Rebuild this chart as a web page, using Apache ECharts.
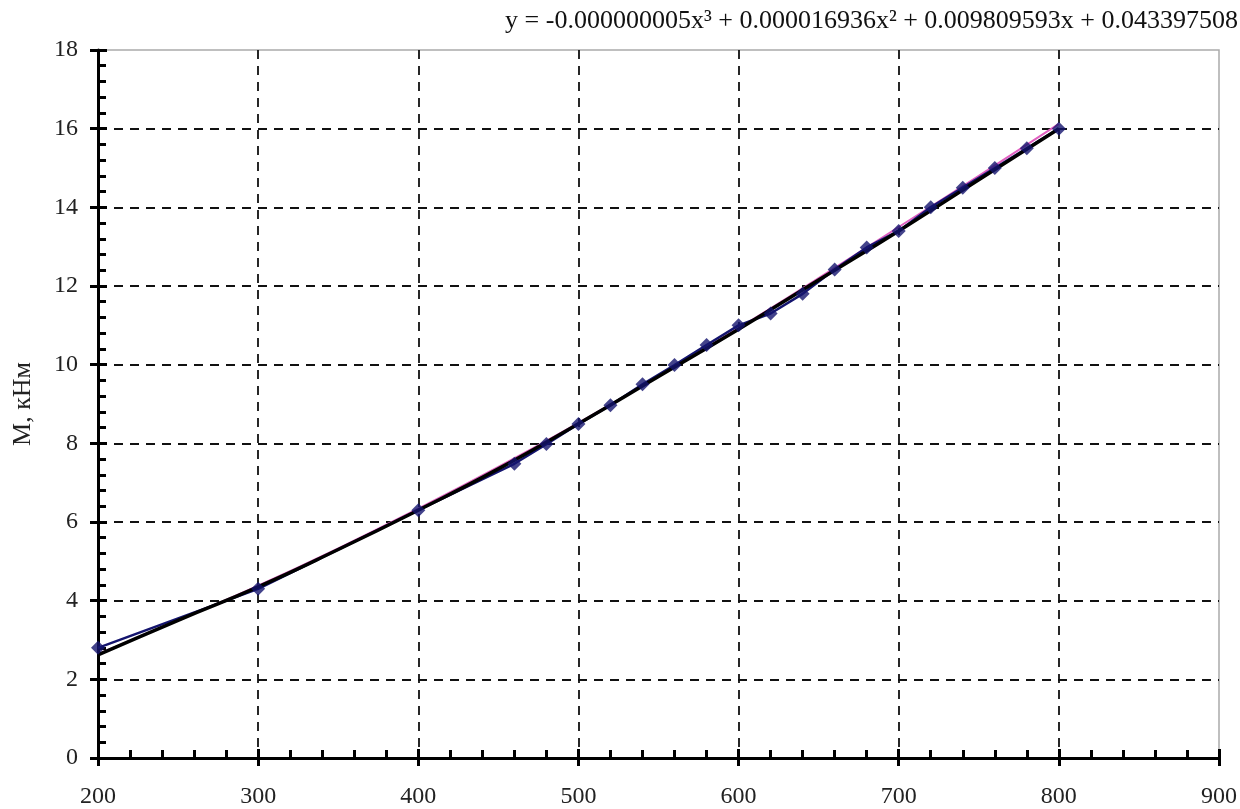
<!DOCTYPE html>
<html>
<head>
<meta charset="utf-8">
<script src="https://cdn.jsdelivr.net/npm/echarts@6/dist/echarts.min.js"></script>
<style>html,body{margin:0;padding:0;background:#fff}#c{width:1240px;height:809px}</style>
</head>
<body>
<div id="c"></div>
<script>
// Measured data (x, M kNm)
const dataX = [200, 300, 400, 460, 480, 500, 520, 540, 560, 580, 600, 620, 640, 660, 680, 700, 720, 740, 760, 780, 800];
const dataY = [2.8, 4.3, 6.3, 7.48, 7.98, 8.49, 8.97, 9.5, 9.99, 10.5, 11.0, 11.3, 11.8, 12.42, 12.98, 13.4, 14.0, 14.5, 15.0, 15.5, 16.0];
// Black curve
const curveX = [200, 250, 300, 350, 400, 450, 500, 550, 600, 650, 700, 750, 800];
const curveY = [2.62, 3.5, 4.35, 5.3, 6.3, 7.35, 8.5, 9.7, 10.9, 12.15, 13.4, 14.7, 16.0];
// Pink trend line
const trendX = [200, 250, 300, 350, 400, 450, 500, 550, 600, 650, 700, 750, 800];
const trendY = [2.64, 3.5, 4.38, 5.33, 6.34, 7.4, 8.52, 9.7, 10.93, 12.2, 13.5, 14.8, 16.12];
const xTicks = [200, 300, 400, 500, 600, 700, 800, 900];
const yTicks = [0, 2, 4, 6, 8, 10, 12, 14, 16, 18];
const equation = 'y = -0.000000005x³ + 0.000016936x² + 0.009809593x + 0.043397508';
const yName = 'M, кНм';

const pairs = (xs, ys) => xs.map((x, i) => [x, ys[i]]);
const font = '"Liberation Serif", "Times New Roman", serif';

const chart = echarts.init(document.getElementById('c'));
const gridLine = {show: true, showMinLine: false, showMaxLine: false, lineStyle: {color: '#111', type: [9, 7], width: 1.8}};
chart.setOption({
  animation: false,
  backgroundColor: '#fff',
  grid: {left: 98, right: 14, top: 50, bottom: 51, show: true, borderColor: '#aaa', borderWidth: 1.5},
  graphic: [{type: 'text', right: 2, top: 8, style: {text: equation, font: '26px ' + font, fill: '#111'}}],
  xAxis: [{
    type: 'value', min: xTicks[0], max: xTicks[xTicks.length - 1], interval: 100,
    axisLine: {show: true, onZero: false, lineStyle: {color: '#000', width: 3}},
    axisTick: {show: true, inside: true, length: 9, lineStyle: {color: '#000', width: 3}},
    minorTick: {show: true, splitNumber: 5, length: 8, lineStyle: {color: '#000', width: 3}},
    axisLabel: {margin: 27, color: '#222', fontSize: 24, fontFamily: font},
    splitLine: gridLine
  }, {
    type: 'value', position: 'bottom', min: xTicks[0], max: xTicks[xTicks.length - 1], interval: 100,
    axisLine: {show: false},
    axisTick: {show: true, inside: false, length: 8, lineStyle: {color: '#000', width: 3}},
    minorTick: {show: false},
    axisLabel: {show: false}, splitLine: {show: false}
  }],
  yAxis: [{
    type: 'value', min: yTicks[0], max: yTicks[yTicks.length - 1], interval: 2,
    name: yName, nameLocation: 'middle', nameGap: 62, nameRotate: 90,
    nameTextStyle: {fontSize: 26, fontFamily: font, color: '#222'},
    axisLine: {show: true, onZero: false, lineStyle: {color: '#000', width: 3}},
    axisTick: {show: true, inside: true, length: 9, lineStyle: {color: '#000', width: 3}},
    minorTick: {show: true, splitNumber: 5, length: 8, lineStyle: {color: '#000', width: 3}},
    axisLabel: {margin: 20, color: '#222', fontSize: 24, fontFamily: font},
    splitLine: gridLine
  }, {
    type: 'value', position: 'left', min: yTicks[0], max: yTicks[yTicks.length - 1], interval: 2,
    axisLine: {show: false},
    axisTick: {show: true, inside: false, length: 8, lineStyle: {color: '#000', width: 3}},
    minorTick: {show: false},
    axisLabel: {show: false}, splitLine: {show: false}
  }],
  series: [
    {type: 'line', data: pairs(trendX, trendY), smooth: true, symbol: 'none', lineStyle: {color: '#e060c0', width: 2}, z: 3},
    {type: 'line', data: pairs(dataX, dataY), symbol: 'none', lineStyle: {color: '#14146e', width: 2.5}, z: 4},
    {type: 'line', data: pairs(curveX, curveY), smooth: true, symbol: 'none', lineStyle: {color: '#000', width: 3.5}, z: 5},
    {type: 'scatter', data: pairs(dataX, dataY), symbol: 'diamond', symbolSize: 14, itemStyle: {color: '#14146e'}, z: 6}
  ]
});
</script>
</body>
</html>
